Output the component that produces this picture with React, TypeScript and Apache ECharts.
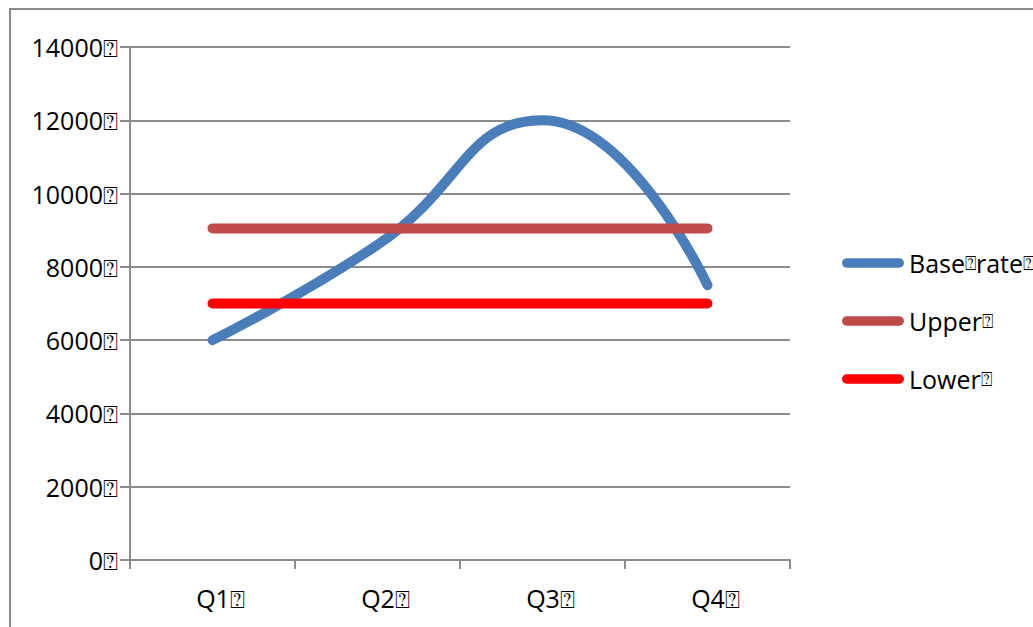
import React, { useEffect, useRef } from "react";
import * as echarts from "echarts";

const BOX = "\u2370";
const categories = ["Q1", "Q2", "Q3", "Q4"];
const baseRate = [6000, 8600, 12000, 7500];
const upper = [9050, 9050, 9050, 9050];
const lower = [7000, 7000, 7000, 7000];
const seriesNames = ["Base" + BOX + "rate" + BOX, "Upper" + BOX, "Lower" + BOX];
const yMin = 0;
const yMax = 14000;
const yInterval = 2000;

const FONT = "'Open Sans', sans-serif";
const GRID_COLOR = "#8c8c8c";

export default function App() {
  const ref = useRef<HTMLDivElement>(null);
  useEffect(() => {
    document.body.style.margin = "0";
    const chart = echarts.init(ref.current!, null, { renderer: "svg" });
    const legendIcon =
      "path://M5,0 L61,0 A5,5 0 0 1 61,10 L5,10 A5,5 0 0 1 5,0 Z";
    const legendFormatter = (name: string) =>
      name
        .split(BOX)
        .map((part, i, arr) =>
          (part ? `{t|${part}}` : "") + (i < arr.length - 1 ? `{b|${BOX}}` : "")
        )
        .join("");
    chart.setOption({
      animation: false,
      backgroundColor: "#ffffff",
      textStyle: { fontFamily: FONT },
      graphic: [
        {
          type: "rect",
          shape: { x: 10, y: 9, width: 1200, height: 800 },
          style: { fill: "none", stroke: "#8a8a8a", lineWidth: 2 },
          silent: true,
        },
      ],
      grid: { left: 130, right: 243, top: 47, bottom: 67 },
      legend: {
        orient: "vertical",
        left: 837,
        top: 243,
        itemWidth: 62,
        itemHeight: 10,
        itemGap: 28,
        icon: legendIcon,
        formatter: legendFormatter,
        textStyle: {
          fontFamily: FONT,
          fontSize: 25,
          color: "#000",
          lineHeight: 30,
          rich: {
            t: { fontFamily: FONT, fontSize: 25, color: "#000", lineHeight: 30 },
            b: { fontFamily: FONT, fontSize: 19, color: "#000", lineHeight: 30 },
          },
        },
        data: seriesNames,
      },
      xAxis: {
        type: "category",
        data: categories.map((c) => c + BOX),
        boundaryGap: true,
        axisLine: { show: true, lineStyle: { color: GRID_COLOR, width: 2 } },
        axisTick: { show: true, length: 9, lineStyle: { color: GRID_COLOR, width: 2 } },
        axisLabel: {
          fontFamily: FONT,
          fontSize: 25,
          color: "#000",
          margin: 25,
          padding: [0, 0, 0, 16],
        },
        splitLine: { show: false },
      },
      yAxis: {
        type: "value",
        min: yMin,
        max: yMax,
        interval: yInterval,
        axisLine: { show: true, lineStyle: { color: GRID_COLOR, width: 2 } },
        axisTick: { show: true, length: 10, lineStyle: { color: GRID_COLOR, width: 2 } },
        axisLabel: {
          fontFamily: FONT,
          fontSize: 25,
          color: "#000",
          margin: 12,
          formatter: (v: number) => v + BOX,
        },
        splitLine: { show: true, lineStyle: { color: GRID_COLOR, width: 2 } },
      },
      series: [
        {
          name: seriesNames[0],
          type: "line",
          data: baseRate,
          smooth: 0.5,
          symbol: "none",
          color: "#4a7ebb",
          lineStyle: { width: 10, color: "#4a7ebb", cap: "round", join: "round" },
        },
        {
          name: seriesNames[1],
          type: "line",
          data: upper,
          symbol: "none",
          color: "#be4b48",
          lineStyle: { width: 10, color: "#be4b48", cap: "round" },
        },
        {
          name: seriesNames[2],
          type: "line",
          data: lower,
          symbol: "none",
          color: "#ff0000",
          lineStyle: { width: 10, color: "#ff0000", cap: "round" },
        },
      ],
    });
    return () => chart.dispose();
  }, []);
  return <div ref={ref} style={{ width: 1033, height: 627 }} />;
}
